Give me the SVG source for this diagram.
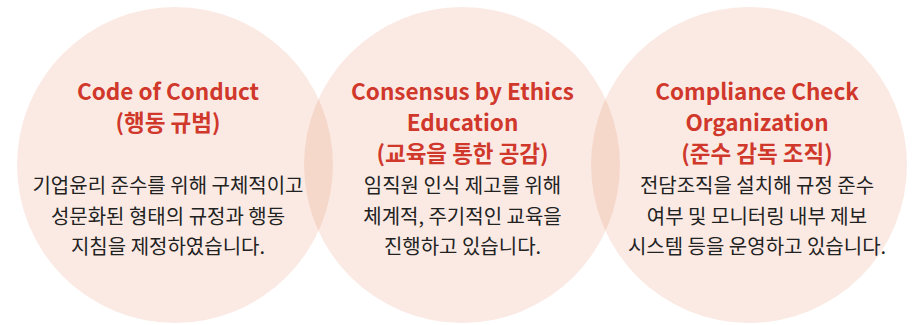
<svg xmlns="http://www.w3.org/2000/svg" width="916" height="325" viewBox="0 0 916 325">
<style>
.c{fill:#FBEAE4}
.ov{fill:#F6D8CB}
.t{font-family:"Noto Sans CJK KR","Noto Sans",sans-serif;font-weight:700;font-size:22.5px;fill:#D0382B;text-anchor:middle}
.b{font-family:"Noto Sans CJK KR","Noto Sans",sans-serif;font-weight:400;font-size:20px;fill:#222;text-anchor:middle}
</style>
<defs>
<clipPath id="k1"><circle cx="175" cy="165" r="158"/></clipPath>
<clipPath id="k3"><circle cx="749" cy="165" r="158"/></clipPath>
</defs>
<rect width="916" height="325" fill="#fff"/>
<g id="node-conduct">
<circle class="c" cx="175" cy="165" r="158"/>
</g>
<g id="node-education">
<circle class="c" cx="462" cy="165" r="158"/>
</g>
<g id="node-compliance">
<circle class="c" cx="749" cy="165" r="158"/>
</g>
<g id="connectors">
<circle class="ov" cx="462" cy="165" r="158" clip-path="url(#k1)"/>
<circle class="ov" cx="462" cy="165" r="158" clip-path="url(#k3)"/>
</g>
<g id="labels-conduct">
<text class="t" x="168" y="100">Code of Conduct</text>
<text class="t" x="168" y="131">(행동 규범)</text>
<text class="b" x="168" y="193">기업윤리 준수를 위해 구체적이고</text>
<text class="b" x="168" y="224">성문화된 형태의 규정과 행동</text>
<text class="b" x="168" y="254">지침을 제정하였습니다.</text>
</g>
<g id="labels-education">
<text class="t" x="462.5" y="100">Consensus by Ethics</text>
<text class="t" x="462.5" y="131">Education</text>
<text class="t" x="462.5" y="162">(교육을 통한 공감)</text>
<text class="b" x="462.5" y="193">임직원 인식 제고를 위해</text>
<text class="b" x="462.5" y="224">체계적, 주기적인 교육을</text>
<text class="b" x="462.5" y="254">진행하고 있습니다.</text>
</g>
<g id="labels-compliance">
<text class="t" x="757" y="100">Compliance Check</text>
<text class="t" x="757" y="131">Organization</text>
<text class="t" x="757" y="162">(준수 감독 조직)</text>
<text class="b" x="757" y="193">전담조직을 설치해 규정 준수</text>
<text class="b" x="757" y="224">여부 및 모니터링 내부 제보</text>
<text class="b" x="757" y="254">시스템 등을 운영하고 있습니다.</text>
</g>
</svg>
